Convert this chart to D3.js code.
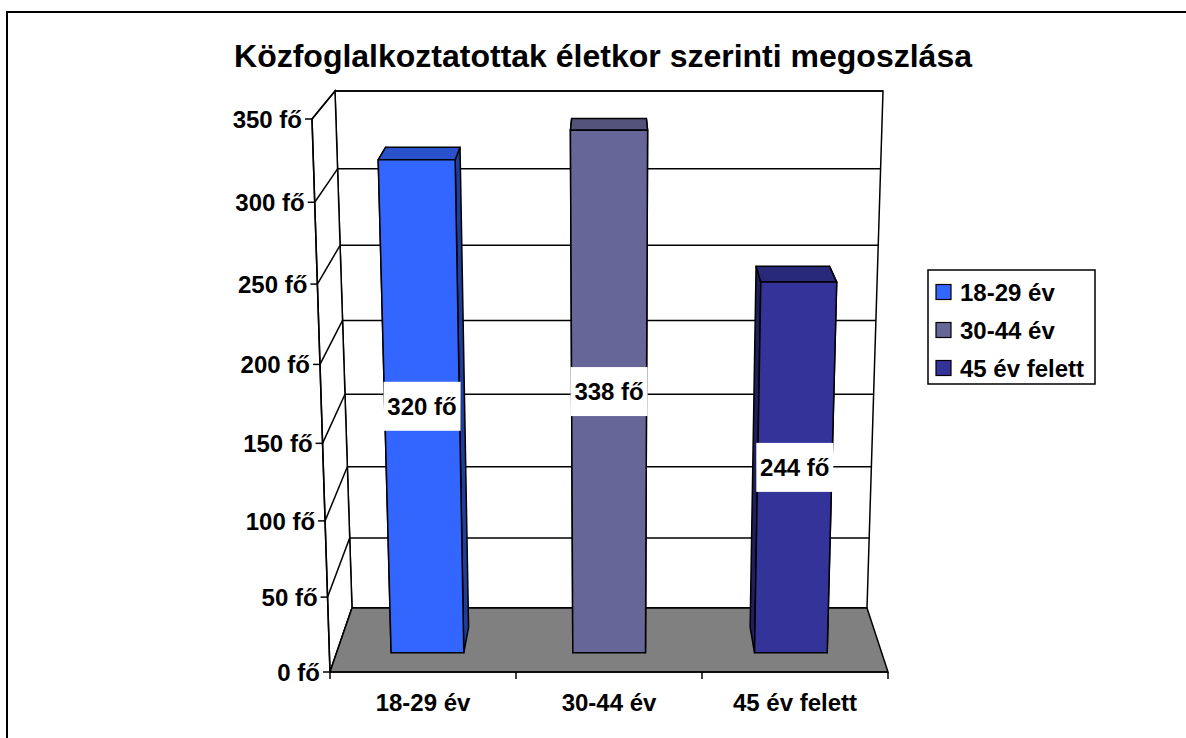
<!DOCTYPE html>
<html>
<head>
<meta charset="utf-8">
<script src="https://cdn.jsdelivr.net/npm/d3@7"></script>
<style>
  html, body { margin: 0; padding: 0; background: #fff; }
  svg { display: block; }
  text { font-family: "Liberation Sans", Arial, sans-serif; font-weight: bold; fill: #000; }
</style>
</head>
<body>
<svg id="chart" width="1186" height="738"></svg>
<script>
// ---- data ----
const title = "Közfoglalkoztatottak életkor szerinti megoszlása";
const categories = ["18-29 év", "30-44 év", "45 év felett"];
const values = [320, 338, 244];
const yTicks = [0, 50, 100, 150, 200, 250, 300, 350];
const unit = " fő";
const frontColors = ["#3366FF", "#666699", "#333399"];
const topColors = ["#2952CC", "#52527A", "#29297A"];
const sideColors = ["#1F3D99", "#3D3D5C", "#1F1F5C"];

// ---- 3D frame (screen geometry of the plot box) ----
const frontPlane = { yb: 672, yt: 119, xlb: 330, xlt: 312, xrb: 888, xrt: 906 };
const backPlane  = { yb: 608, yt: 91,  xlb: 352, xlt: 335, xrb: 867, xrt: 883 };
const wTop = 0.94; // perspective weight at top vs bottom
const barZ0 = 0.3, barZ1 = 0.7;

const svg = d3.select("#chart");

const xBand = d3.scaleBand().domain(categories).range([0, 1]).paddingInner(0.6).paddingOuter(0.3);
const xSlot = d3.scaleBand().domain(categories).range([0, 1]).padding(0);
const yScale = d3.scaleLinear().domain([0, 350]).range([0, 1]);

function planeY(p, s) {
  const hz = 1 + s * (wTop - 1);
  return (p.yb + s * (wTop * p.yt - p.yb)) / hz;
}
function planePt(p, X, s) {
  const y = planeY(p, s);
  const t = (y - p.yb) / (p.yt - p.yb);
  const xl = p.xlb + t * (p.xlt - p.xlb);
  const xr = p.xrb + t * (p.xrt - p.xrb);
  return [xl + X * (xr - xl), y];
}
function proj(X, s, Z) {
  const f = planePt(frontPlane, X, s), b = planePt(backPlane, X, s);
  return [f[0] + Z * (b[0] - f[0]), f[1] + Z * (b[1] - f[1])];
}
const poly = pts => pts.map(p => p.join(",")).join(" ");

// outer border (only top/left fall inside the picture)
svg.append("rect").attr("x", 7).attr("y", 12).attr("width", 1200).attr("height", 760)
  .attr("fill", "#fff").attr("stroke", "#000").attr("stroke-width", 2);

// title
svg.append("text").attr("x", 603).attr("y", 67).attr("text-anchor", "middle")
  .attr("font-size", 32).text(title);

const g = svg.append("g");
const lineStyle = sel => sel.attr("stroke", "#000").attr("stroke-width", 1.5).attr("fill", "none");

// walls
g.append("polygon").attr("points", poly([proj(0,0,1), proj(1,0,1), proj(1,1,1), proj(0,1,1)]))
  .attr("fill", "#fff").call(lineStyle).attr("fill", "#fff");
g.append("polygon").attr("points", poly([proj(0,0,0), proj(0,0,1), proj(0,1,1), proj(0,1,0)]))
  .attr("fill", "#fff").call(lineStyle).attr("fill", "#fff");

// gridlines on back and side wall
yTicks.forEach(v => {
  const s = yScale(v);
  g.append("line").attr("x1", proj(0,s,1)[0]).attr("y1", proj(0,s,1)[1])
    .attr("x2", proj(1,s,1)[0]).attr("y2", proj(1,s,1)[1]).call(lineStyle);
  g.append("line").attr("x1", proj(0,s,0)[0]).attr("y1", proj(0,s,0)[1])
    .attr("x2", proj(0,s,1)[0]).attr("y2", proj(0,s,1)[1]).call(lineStyle);
});

// floor
g.append("polygon").attr("points", poly([proj(0,0,0), proj(1,0,0), proj(1,0,1), proj(0,0,1)]))
  .attr("fill", "#808080").attr("stroke", "#000").attr("stroke-width", 1.5);

// value axis (front-left edge) + ticks + labels
g.append("line").attr("x1", proj(0,0,0)[0]).attr("y1", proj(0,0,0)[1])
  .attr("x2", proj(0,1,0)[0]).attr("y2", proj(0,1,0)[1]).call(lineStyle);
yTicks.forEach(v => {
  const p = proj(0, yScale(v), 0);
  g.append("line").attr("x1", p[0] - 7).attr("y1", p[1]).attr("x2", p[0]).attr("y2", p[1]).call(lineStyle);
  g.append("text").attr("x", p[0] - 10).attr("y", p[1]).attr("dy", "0.36em")
    .attr("text-anchor", "end").attr("font-size", 24).text(v + unit);
});

// category axis (front floor edge) + ticks + labels
g.append("line").attr("x1", proj(0,0,0)[0]).attr("y1", proj(0,0,0)[1])
  .attr("x2", proj(1,0,0)[0]).attr("y2", proj(1,0,0)[1]).call(lineStyle);
[0, 1, 2, 3].forEach(i => {
  const X = i < 3 ? xSlot(categories[i]) : 1;
  const p = proj(X, 0, 0);
  g.append("line").attr("x1", p[0]).attr("y1", p[1]).attr("x2", p[0]).attr("y2", p[1] + 7).call(lineStyle);
});
categories.forEach(c => {
  const p = proj(xSlot(c) + xSlot.bandwidth() / 2, 0, 0);
  g.append("text").attr("x", p[0]).attr("y", p[1] + 39).attr("text-anchor", "middle")
    .attr("font-size", 24).text(c);
});

// bars
const barStroke = sel => sel.attr("stroke", "#000").attr("stroke-width", 1.5).attr("stroke-linejoin", "round");
categories.forEach((c, i) => {
  const X0 = xBand(c), X1 = X0 + xBand.bandwidth(), s = yScale(values[i]);
  const bg = g.append("g");
  const left = [proj(X0,0,barZ0), proj(X0,s,barZ0), proj(X0,s,barZ1), proj(X0,0,barZ1)];
  const right = [proj(X1,0,barZ0), proj(X1,s,barZ0), proj(X1,s,barZ1), proj(X1,0,barZ1)];
  const leftVisible = proj(X0,s,barZ1)[0] < proj(X0,s,barZ0)[0];
  const rightVisible = proj(X1,s,barZ1)[0] > proj(X1,s,barZ0)[0];
  const sides = [];
  if (!leftVisible) sides.push(left);
  if (!rightVisible) sides.push(right);
  if (leftVisible) sides.push(left);
  if (rightVisible) sides.push(right);
  sides.forEach(f => bg.append("polygon").attr("points", poly(f)).attr("fill", sideColors[i]).call(barStroke));
  bg.append("polygon").attr("points", poly([proj(X0,s,barZ0), proj(X1,s,barZ0), proj(X1,s,barZ1), proj(X0,s,barZ1)]))
    .attr("fill", topColors[i]).call(barStroke);
  bg.append("polygon").attr("points", poly([proj(X0,0,barZ0), proj(X1,0,barZ0), proj(X1,s,barZ0), proj(X0,s,barZ0)]))
    .attr("fill", frontColors[i]).call(barStroke);
});

// data labels
categories.forEach((c, i) => {
  const X0 = xBand(c), X1 = X0 + xBand.bandwidth(), s = yScale(values[i]);
  const pts = [proj(X0,0,barZ0), proj(X1,0,barZ0), proj(X1,s,barZ0), proj(X0,s,barZ0)];
  const cx = d3.mean(pts, p => p[0]), cy = d3.mean(pts, p => p[1]);
  g.append("rect").attr("x", cx - 38.5).attr("y", cy - 24.5).attr("width", 77).attr("height", 49).attr("fill", "#fff");
  g.append("text").attr("x", cx).attr("y", cy).attr("dy", "0.36em").attr("text-anchor", "middle")
    .attr("font-size", 24).text(values[i] + unit);
});

// legend
const lg = svg.append("g");
lg.append("rect").attr("x", 928).attr("y", 270).attr("width", 167).attr("height", 114)
  .attr("fill", "#fff").attr("stroke", "#000").attr("stroke-width", 1.5);
categories.forEach((c, i) => {
  const cy = 292 + i * 38;
  lg.append("rect").attr("x", 936).attr("y", cy - 7.5).attr("width", 15).attr("height", 15)
    .attr("fill", frontColors[i]).attr("stroke", "#000").attr("stroke-width", 1.2);
  lg.append("text").attr("x", 960).attr("y", cy).attr("dy", "0.36em").attr("font-size", 24).text(c);
});
</script>
</body>
</html>
